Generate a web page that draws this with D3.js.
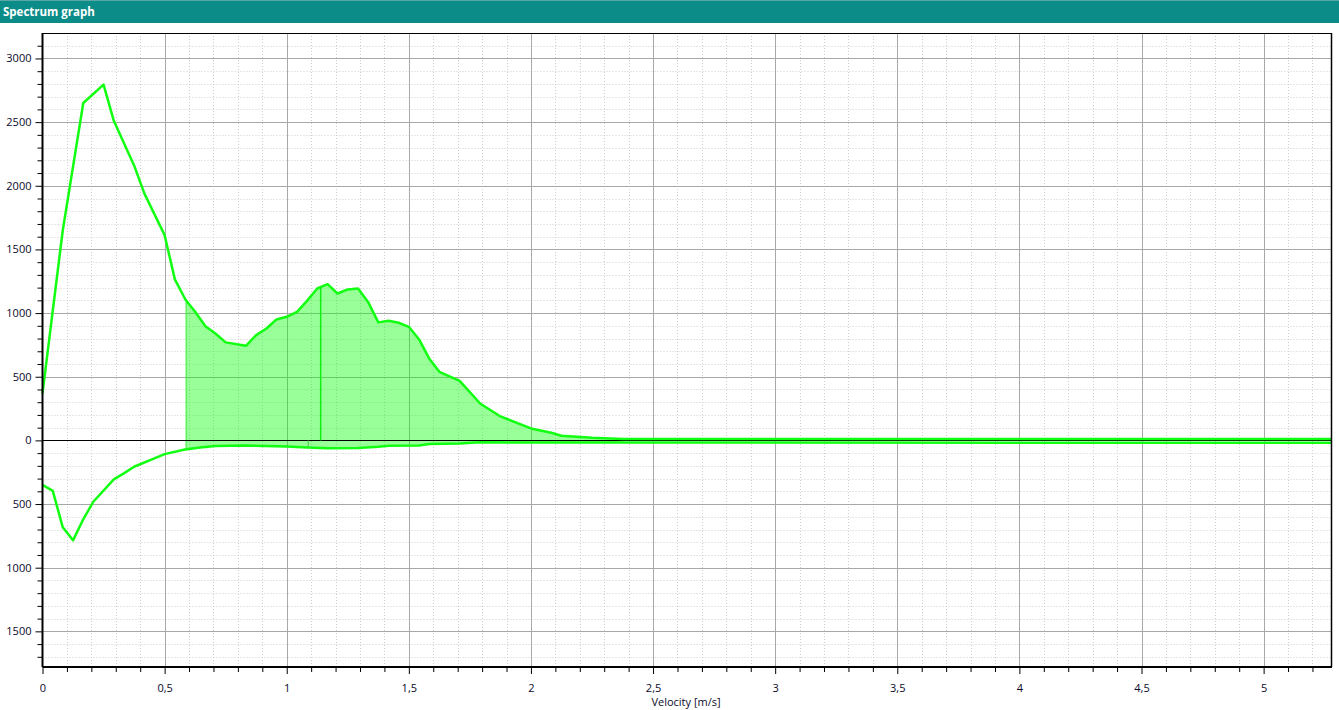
<!DOCTYPE html>
<html>
<head>
<meta charset="utf-8">
<script src="https://cdn.jsdelivr.net/npm/d3@7"></script>
<style>
  html, body { margin: 0; padding: 0; background: #fff; }
  svg { display: block; }
  text { font-family: "Open Sans", "Noto Sans", sans-serif; }
</style>
</head>
<body>
<svg id="chart" width="1339" height="710"></svg>
<script>
// ---- data ----
const title = "Spectrum graph";
const xAxisTitle = "Velocity [m/s]";

const upperVelocity = [0, 0.083, 0.167, 0.25, 0.292, 0.375, 0.417, 0.5, 0.542, 0.585, 0.625, 0.667, 0.708, 0.75, 0.833, 0.875, 0.917, 0.958, 1.0, 1.042, 1.083, 1.125, 1.167, 1.208, 1.25, 1.292, 1.333, 1.375, 1.417, 1.458, 1.5, 1.542, 1.583, 1.625, 1.708, 1.792, 1.875, 2.0, 2.083, 2.125, 2.25, 2.375, 5.28];
const upperValue    = [370, 1650, 2650, 2795, 2510, 2160, 1940, 1612, 1265, 1107, 1010, 897, 840, 770, 743, 827, 879, 950, 971, 1010, 1096, 1193, 1227, 1154, 1186, 1193, 1088, 927, 939, 924, 892, 793, 644, 539, 468, 290, 188, 94, 60, 36, 20, 10, 10];

const lowerVelocity = [0, 0.042, 0.083, 0.125, 0.167, 0.208, 0.292, 0.333, 0.375, 0.458, 0.5, 0.583, 0.645, 0.708, 0.833, 1.0, 1.083, 1.167, 1.292, 1.375, 1.417, 1.542, 1.583, 1.708, 1.792, 2.0, 5.28];
const lowerValue    = [-350, -396, -683, -785, -620, -482, -306, -259, -207, -141, -108, -71, -55, -45, -40, -48, -55, -62, -60, -50, -42, -40, -28, -25, -15, -17, -18];

const fillRange = [0.588, 2.375];
const meanMarker = 1.139;
const lowerMarker = 1.088;

const xDomain = [0, 5.28];
const yDomain = [-1780, 3200];
const xMajorTicks = [0, 0.5, 1, 1.5, 2, 2.5, 3, 3.5, 4, 4.5, 5];
const yMajorTicks = [-1500, -1000, -500, 0, 500, 1000, 1500, 2000, 2500, 3000];

// ---- layout ----
const svg = d3.select("#chart");
const W = 1339, H = 710;
const plot = { left: 42.5, right: 1332, top: 33, bottom: 667 };

// title bar
svg.append("rect").attr("x", 0).attr("y", 0).attr("width", W).attr("height", 23).attr("fill", "#0b8c88");
svg.append("rect").attr("x", 0).attr("y", 0).attr("width", W).attr("height", 1).attr("fill", "#5aa8a5");
svg.append("text").attr("x", 3).attr("y", 16).attr("fill", "#ffffff")
  .attr("font-size", "11.5px").attr("font-weight", 700).text(title);

const x = d3.scaleLinear().domain(xDomain).range([plot.left, plot.right]);
const y = d3.scaleLinear().domain(yDomain).range([plot.bottom, plot.top]);

const g = svg.append("g");

// minor grid
const xMinor = d3.range(0, 5.3, 0.1).map(v => +v.toFixed(2)).filter(v => v <= xDomain[1] && !xMajorTicks.some(m => Math.abs(m - v) < 1e-6));
const yMinor = d3.range(-1700, 3201, 100).filter(v => !yMajorTicks.includes(v) && v < yDomain[1]);

g.selectAll(".xminor").data(xMinor).join("line")
  .attr("x1", d => Math.round(x(d)) + 0.5).attr("x2", d => Math.round(x(d)) + 0.5)
  .attr("y1", plot.top).attr("y2", plot.bottom)
  .attr("stroke", "#cfcfcf").attr("stroke-dasharray", "1,2");
g.selectAll(".yminor").data(yMinor).join("line")
  .attr("x1", plot.left).attr("x2", plot.right)
  .attr("y1", d => Math.round(y(d)) + 0.5).attr("y2", d => Math.round(y(d)) + 0.5)
  .attr("stroke", "#cfcfcf").attr("stroke-dasharray", "1,2");

// major grid
g.selectAll(".xmajor").data(xMajorTicks.filter(d => d > 0)).join("line")
  .attr("x1", d => Math.round(x(d)) + 0.5).attr("x2", d => Math.round(x(d)) + 0.5)
  .attr("y1", plot.top).attr("y2", plot.bottom)
  .attr("stroke", "#a8a8a8");
g.selectAll(".ymajor").data(yMajorTicks.filter(d => d !== 0)).join("line")
  .attr("x1", plot.left).attr("x2", plot.right)
  .attr("y1", d => Math.round(y(d)) + 0.5).attr("y2", d => Math.round(y(d)) + 0.5)
  .attr("stroke", "#a8a8a8");

// fill area between curves
const upperPts = upperVelocity.map((v, i) => [v, upperValue[i]]);
const lowerPts = lowerVelocity.map((v, i) => [v, lowerValue[i]]);
function interp(pts, v) {
  for (let i = 1; i < pts.length; i++) {
    if (v <= pts[i][0]) {
      const t = (v - pts[i-1][0]) / (pts[i][0] - pts[i-1][0]);
      return pts[i-1][1] + t * (pts[i][1] - pts[i-1][1]);
    }
  }
  return pts[pts.length - 1][1];
}
function clipSeg(pts, a, b) {
  const out = [[a, interp(pts, a)]];
  pts.forEach(p => { if (p[0] > a && p[0] < b) out.push(p); });
  out.push([b, interp(pts, b)]);
  return out;
}
const topEdge = clipSeg(upperPts, fillRange[0], fillRange[1]);
const botEdge = clipSeg(lowerPts, fillRange[0], fillRange[1]);
const area = d3.area().x(d => x(d.v)).y0(d => y(d.lo)).y1(d => y(d.hi));
const allV = Array.from(new Set([...topEdge.map(p => p[0]), ...botEdge.map(p => p[0])])).sort((a, b) => a - b);
const areaData = allV.map(v => ({ v, hi: interp(topEdge, v), lo: interp(botEdge, v) }));
g.append("path").datum(areaData).attr("d", area)
  .attr("fill", "#00ff00").attr("fill-opacity", 0.4).attr("stroke", "none");
// fill left edge
g.append("line").attr("x1", x(fillRange[0])).attr("x2", x(fillRange[0]))
  .attr("y1", y(interp(upperPts, fillRange[0]))).attr("y2", y(interp(lowerPts, fillRange[0])))
  .attr("stroke", "#33ee33").attr("stroke-width", 1);

// zero line
g.append("line").attr("x1", plot.left).attr("x2", plot.right)
  .attr("y1", Math.round(y(0)) + 0.5).attr("y2", Math.round(y(0)) + 0.5)
  .attr("stroke", "#000").attr("stroke-width", 1);

// curves
const line = d3.line().x(d => x(d[0])).y(d => y(d[1]));
g.append("path").datum(upperPts).attr("d", line)
  .attr("fill", "none").attr("stroke", "#11ff11").attr("stroke-width", 2.5).attr("stroke-linejoin", "round");
g.append("path").datum(lowerPts).attr("d", line)
  .attr("fill", "none").attr("stroke", "#11ff11").attr("stroke-width", 2.5).attr("stroke-linejoin", "round");

// markers
g.append("line").attr("x1", x(meanMarker)).attr("x2", x(meanMarker))
  .attr("y1", y(0)).attr("y2", y(interp(upperPts, meanMarker)))
  .attr("stroke", "#11ee11").attr("stroke-width", 1.5);
g.append("line").attr("x1", x(lowerMarker)).attr("x2", x(lowerMarker))
  .attr("y1", y(0)).attr("y2", y(interp(lowerPts, lowerMarker)))
  .attr("stroke", "#44cc44").attr("stroke-width", 1);

// frame
svg.append("line").attr("x1", plot.left).attr("x2", plot.right).attr("y1", plot.top + 0.5).attr("y2", plot.top + 0.5).attr("stroke", "#000");
svg.append("line").attr("x1", plot.right - 0.5).attr("x2", plot.right - 0.5).attr("y1", plot.top).attr("y2", plot.bottom).attr("stroke", "#000").attr("stroke-width", 1.5);

// axes
const fmtX = d => String(d).replace(".", ",");
const xAxis = d3.axisBottom(x).tickValues(xMajorTicks).tickFormat(fmtX).tickSize(7).tickPadding(10);
const xAxisMinor = d3.axisBottom(x).tickValues(xMinor).tickFormat("").tickSize(5);
const yAxis = d3.axisLeft(y).tickValues(yMajorTicks).tickFormat(d => String(Math.abs(d))).tickSize(7).tickPadding(4);
const yAxisMinor = d3.axisLeft(y).tickValues(yMinor).tickFormat("").tickSize(5);

function styleAxis(sel) {
  sel.select(".domain").attr("stroke", "#000").attr("stroke-width", 2);
  sel.selectAll(".tick line").attr("stroke", "#000");
  sel.selectAll("text").attr("fill", "#0a0a2a").attr("font-size", "11px")
    .attr("font-family", "'Open Sans', 'Noto Sans', sans-serif");
}
svg.append("g").attr("transform", `translate(0,${plot.bottom})`).call(xAxisMinor).call(s => { s.select(".domain").remove(); s.selectAll("line").attr("stroke", "#000"); });
svg.append("g").attr("transform", `translate(${plot.left},0)`).call(yAxisMinor).call(s => { s.select(".domain").remove(); s.selectAll("line").attr("stroke", "#000"); });
svg.append("g").attr("transform", `translate(0,${plot.bottom})`).call(xAxis).call(styleAxis)
  .call(s => s.select(".domain").attr("d", `M${plot.left},0H${plot.right}`));
svg.append("g").attr("transform", `translate(${plot.left},0)`).call(yAxis).call(styleAxis)
  .call(s => s.select(".domain").attr("d", `M0,${plot.top}V${plot.bottom}`));

// x axis title
svg.append("text").attr("x", 686).attr("y", 706).attr("text-anchor", "middle")
  .attr("font-size", "11px").attr("fill", "#0a0a2a").text(xAxisTitle);
</script>
</body>
</html>
